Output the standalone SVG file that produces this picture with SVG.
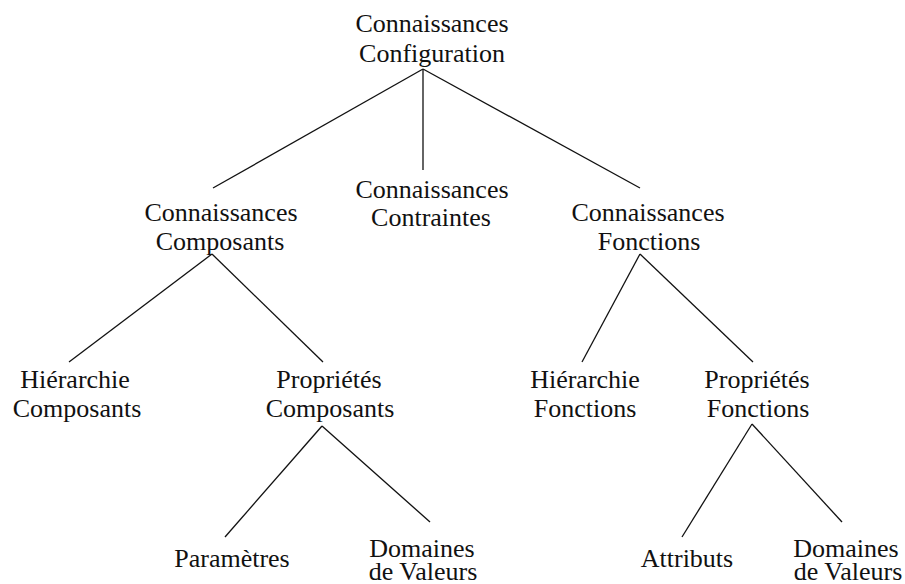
<svg xmlns="http://www.w3.org/2000/svg" width="905" height="584" viewBox="0 0 905 584">
<style>
text{font-family:"Liberation Serif","Times New Roman",serif;font-size:26px;fill:#111;text-anchor:middle}
.c line{stroke:#111;stroke-width:1.3;fill:none}
</style>
<rect width="905" height="584" fill="#fff"/>
<g class="c" id="connectors">
<line x1="423" y1="69" x2="213" y2="188"/>
<line x1="423" y1="69" x2="423" y2="170"/>
<line x1="423" y1="69" x2="640" y2="188"/>
<line x1="212" y1="254" x2="69" y2="362"/>
<line x1="212" y1="254" x2="323" y2="362"/>
<line x1="640" y1="254" x2="582" y2="362"/>
<line x1="640" y1="254" x2="753" y2="362"/>
<line x1="322" y1="426" x2="225" y2="537"/>
<line x1="322" y1="426" x2="430" y2="522"/>
<line x1="752" y1="424" x2="682" y2="537"/>
<line x1="752" y1="424" x2="842" y2="522"/>
</g>
<g id="root"><text x="432" y="32">Connaissances</text><text x="432" y="62">Configuration</text></g>
<g id="composants"><text x="221" y="221">Connaissances</text><text x="220" y="250">Composants</text></g>
<g id="contraintes"><text x="432" y="198">Connaissances</text><text x="431" y="226">Contraintes</text></g>
<g id="fonctions"><text x="648" y="221">Connaissances</text><text x="649" y="250">Fonctions</text></g>
<g id="hier-comp"><text x="75" y="388">Hiérarchie</text><text x="77" y="417">Composants</text></g>
<g id="prop-comp"><text x="329" y="388">Propriétés</text><text x="330" y="417">Composants</text></g>
<g id="hier-fonc"><text x="585" y="388">Hiérarchie</text><text x="585" y="417">Fonctions</text></g>
<g id="prop-fonc"><text x="757" y="388">Propriétés</text><text x="758" y="417">Fonctions</text></g>
<g id="parametres"><text x="232" y="567">Paramètres</text></g>
<g id="domaines-comp"><text x="422" y="557">Domaines</text><text x="423" y="580">de Valeurs</text></g>
<g id="attributs"><text x="687" y="567">Attributs</text></g>
<g id="domaines-fonc"><text x="846" y="557">Domaines</text><text x="848" y="580">de Valeurs</text></g>
</svg>
